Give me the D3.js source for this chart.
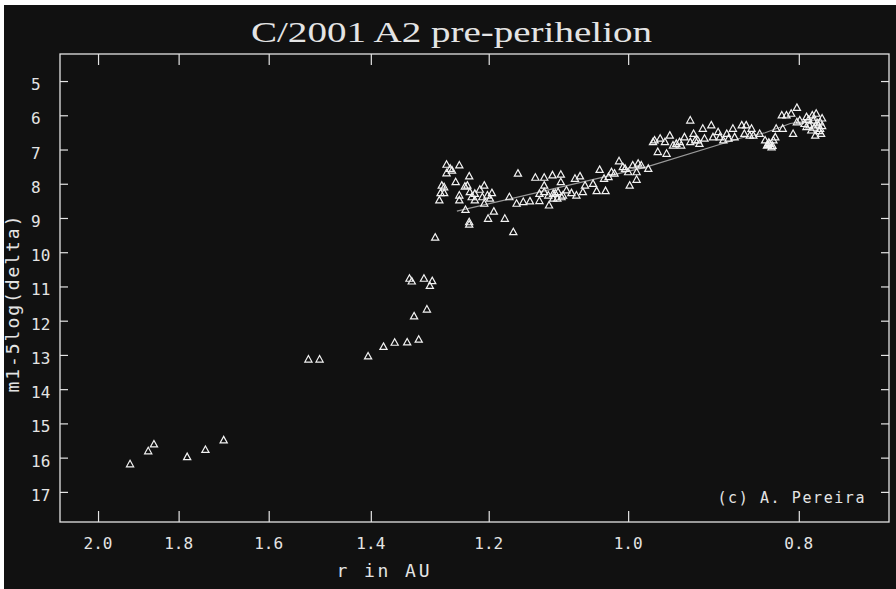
<!DOCTYPE html>
<html><head><meta charset="utf-8">
<script src="https://cdn.jsdelivr.net/npm/d3@7"></script>
<style>html,body{margin:0;padding:0;background:#ffffff;} svg{display:block}</style>
</head><body><svg id="c" width="896" height="589"></svg>
<script>
const title = "C/2001 A2 pre-perihelion";
const xLabel = "r in AU";
const yLabel = "m1-5log(delta)";
const credit = "(c) A. Pereira";
const xTicks = [2.0, 1.8, 1.6, 1.4, 1.2, 1.0, 0.8];
const yTicks = [5, 6, 7, 8, 9, 10, 11, 12, 13, 14, 15, 16, 17];

// observations: [r (AU), m1-5log(delta)]
const faintObs = [
  [1.918,16.18],[1.873,15.80],[1.859,15.60],[1.780,15.97],[1.738,15.76],[1.697,15.48],
  [1.519,13.12],[1.497,13.12],[1.405,13.03],[1.377,12.75],[1.357,12.63],[1.335,12.62],
  [1.315,12.54],[1.323,11.86],[1.301,11.66],[1.331,10.76],[1.327,10.84],[1.306,10.76],
  [1.292,10.83],[1.296,10.97],[1.287,9.56]
];
const midObs = [
  [1.268,7.43],[1.262,7.55],[1.259,7.60],[1.268,7.68],[1.247,7.45],[1.231,7.77],[1.253,7.94],
  [1.276,8.04],[1.272,8.09],[1.278,8.26],[1.272,8.26],[1.280,8.47],[1.238,8.07],[1.234,8.04],
  [1.207,8.04],[1.247,8.33],[1.247,8.47],[1.230,8.23],[1.222,8.28],[1.214,8.16],[1.227,8.38],
  [1.222,8.47],[1.210,8.38],[1.202,8.33],[1.195,8.26],[1.207,8.57],[1.198,8.42],[1.237,8.75],
  [1.231,9.11],[1.231,9.18],[1.201,9.01],[1.192,8.80],[1.175,9.01],[1.162,9.40],[1.168,8.38],
  [1.155,7.69],[1.157,8.57],[1.147,8.52],[1.137,8.50],[1.129,7.81],[1.116,7.81],[1.116,8.04],
  [1.104,7.74],[1.092,7.72],[1.092,7.94],[1.123,8.28],[1.123,8.49],[1.109,8.62],[1.116,8.23],
  [1.110,8.33],[1.103,8.28],[1.096,8.23],[1.091,8.38],[1.084,8.18],[1.077,8.26],[1.072,7.84],
  [1.065,7.77],[1.070,8.33],[1.061,8.23],[1.058,8.04],[1.047,7.99],[1.042,8.20],[1.030,8.20],
  [1.038,7.58],[1.032,7.84],[1.026,7.79],[1.012,7.33],[1.018,7.69],[1.004,7.55],[0.998,8.04],
  [0.994,7.45],[0.989,7.87],[0.983,7.45],[0.989,7.65],[1.100,8.27],[1.097,8.42],[1.089,8.33],
  [1.103,8.42],[1.022,7.65],[1.007,7.50],[1.000,7.65],[0.987,7.40]
];
const brightObs = [
  [0.974,7.55],[0.966,6.72],[0.959,6.67],[0.953,6.77],[0.947,6.58],[0.962,7.06],[0.951,7.11],
  [0.943,6.87],[0.935,6.77],[0.929,6.63],[0.922,6.14],[0.918,6.53],[0.913,6.72],[0.907,6.38],
  [0.905,6.67],[0.897,6.28],[0.895,6.63],[0.889,6.48],[0.883,6.72],[0.879,6.53],[0.872,6.38],
  [0.870,6.63],[0.862,6.28],[0.857,6.28],[0.851,6.38],[0.859,6.53],[0.849,6.58],[0.842,6.53],
  [0.836,6.72],[0.831,6.82],[0.829,6.92],[0.834,6.87],[0.825,6.63],[0.824,6.38],[0.817,6.38],
  [0.818,5.99],[0.813,5.99],[0.808,5.94],[0.802,5.77],[0.806,6.53],[0.799,6.14],[0.792,6.04],
  [0.786,5.99],[0.782,5.94],[0.778,6.19],[0.778,6.38],[0.783,6.58],[0.792,6.33],[0.787,6.43],
  [0.777,6.53],[0.802,6.19],[0.794,6.24],[0.832,6.79],[0.827,6.72],[0.789,6.28],[0.780,6.28],
  [0.776,6.08],[0.785,6.14],[0.968,6.77],[0.939,6.82],[0.933,6.87],[0.922,6.77],[0.916,6.72],
  [0.911,6.82],[0.887,6.63],[0.877,6.67],[0.853,6.58],[0.779,6.45],[0.784,6.35],[0.781,6.22],
  [0.776,6.30],[0.790,6.12],[0.833,6.85],[0.828,6.88]
];
// fitted light curve
const fitR = [1.251, 1.108, 0.978, 0.864, 0.836, 0.809, 0.778];
const fitM = [8.80, 8.17, 7.52, 6.67, 6.51, 6.24, 6.12];

const svg = d3.select("#c");
const W = 896, H = 589;
const plot = {left: 60, right: 889, top: 54, bottom: 522};
const fg = "#e4e4e4";
const mono = "'DejaVu Sans Mono', monospace";

svg.append("rect").attr("x", 4).attr("y", 5).attr("width", W - 4).attr("height", H - 5).attr("fill", "#111111");

const x = d3.scaleLog().domain([2.102, 0.711]).range([plot.left, plot.right]);
const y = d3.scaleLinear().domain([4.21, 17.88]).range([plot.top, plot.bottom]);

// frame
svg.append("rect").attr("x", plot.left).attr("y", plot.top)
  .attr("width", plot.right - plot.left).attr("height", plot.bottom - plot.top)
  .attr("fill", "none").attr("stroke", fg).attr("stroke-width", 1.3);

function styleAxis(g) {
  g.select(".domain").remove();
  g.selectAll(".tick line").attr("stroke", fg).attr("stroke-width", 1.2);
}
svg.append("g").attr("transform", `translate(0,${plot.bottom})`)
  .call(d3.axisBottom(x).tickValues(xTicks).tickSize(-11).tickFormat(""))
  .call(styleAxis);
svg.append("g").attr("transform", `translate(0,${plot.top})`)
  .call(d3.axisTop(x).tickValues(xTicks).tickSize(-11).tickFormat(""))
  .call(styleAxis);
svg.append("g").attr("transform", `translate(${plot.left},0)`)
  .call(d3.axisLeft(y).tickValues(yTicks).tickSize(-8).tickFormat(""))
  .call(styleAxis);
svg.append("g").attr("transform", `translate(${plot.right},0)`)
  .call(d3.axisRight(y).tickValues(yTicks).tickSize(-8).tickFormat(""))
  .call(styleAxis);

// tick labels
svg.append("g").selectAll("text").data(xTicks).join("text")
  .attr("x", d => x(d)).attr("y", 549)
  .attr("text-anchor", "middle").attr("fill", fg)
  .style("font-family", mono).style("font-size", "16px")
  .text(d => d.toFixed(1));
svg.append("g").selectAll("text").data(yTicks).join("text")
  .attr("x", 31).attr("y", d => y(d) + 9)
  .attr("text-anchor", "start").attr("fill", fg)
  .style("font-family", mono).style("font-size", "16px")
  .text(d => String(d));

// axis titles
svg.append("text").attr("x", 383).attr("y", 577).attr("text-anchor", "middle")
  .attr("fill", fg).style("font-family", mono).style("font-size", "18px")
  .attr("textLength", 93).attr("lengthAdjust", "spacing").text(xLabel);
svg.append("text").attr("transform", "translate(19,304) rotate(-90)").attr("text-anchor", "middle")
  .attr("fill", fg).style("font-family", mono).style("font-size", "18px")
  .attr("textLength", 177).attr("lengthAdjust", "spacing").text(yLabel);

// title
svg.append("text").attr("x", 451.5).attr("y", 42).attr("text-anchor", "middle")
  .attr("fill", fg).style("font-family", "'Liberation Serif', serif").style("font-size", "30px")
  .attr("textLength", 401).attr("lengthAdjust", "spacingAndGlyphs").text(title);

// credit
svg.append("text").attr("x", 791).attr("y", 503).attr("text-anchor", "middle")
  .attr("fill", fg).style("font-family", mono).style("font-size", "15px")
  .attr("textLength", 147).attr("lengthAdjust", "spacing").text(credit);

// fit line
const fit = fitR.map((r, i) => [r, fitM[i]]);
svg.append("path").datum(fit)
  .attr("d", d3.line().x(d => x(d[0])).y(d => y(d[1])))
  .attr("fill", "none").attr("stroke", "#9a9a9a").attr("stroke-width", 1.2);

// observations
const tri = "M0,-3.5L3.6,3L-3.6,3Z";
const allObs = faintObs.concat(midObs, brightObs);
svg.append("g").selectAll("path").data(allObs).join("path")
  .attr("transform", d => `translate(${x(d[0])},${y(d[1])})`)
  .attr("d", tri).attr("fill", "none").attr("stroke", "#f2f2f2").attr("stroke-width", 1.2);
</script></body></html>
